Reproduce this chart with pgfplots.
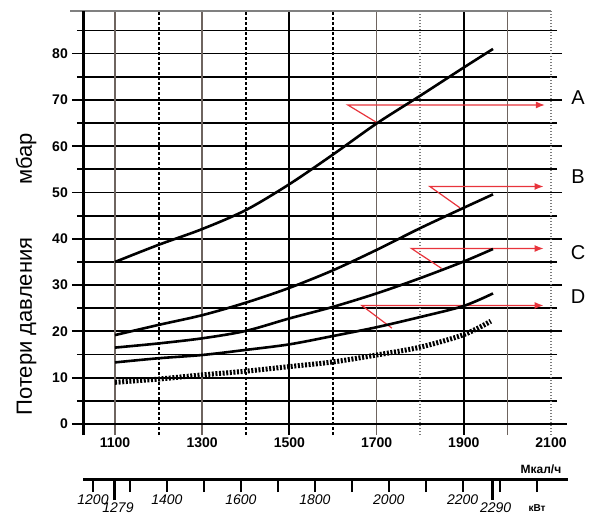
\documentclass[border=0pt]{standalone}
\usepackage{fontspec}
\setmainfont{Liberation Sans}
\usepackage{pgfplots}
\pgfplotsset{compat=1.18}
\usetikzlibrary{arrows.meta}
\definecolor{gridgray}{RGB}{110,100,95}
\definecolor{dotgray}{RGB}{125,125,125}
\definecolor{annred}{RGB}{232,52,60}
\begin{document}
\begin{tikzpicture}
\path (0,0) rectangle (598bp,-526bp);
\begin{axis}[
  at={(83bp,-430bp)}, anchor=south west,
  scale only axis, width=468bp, height=424bp,
  xmin=1026.6, xmax=2100, ymin=-2.38, ymax=89.2,
  clip=false,
  axis line style={draw=none},
  xtick={1100,1300,...,2100},
  xtick style={draw=none},
  ytick={0,10,...,80},
  minor ytick={5,15,...,85},
  ymajorgrids, yminorgrids,
  major grid style={black, line width=1.8bp},
  minor grid style={black, line width=1.8bp},
  ytick style={black, line width=1.8bp},
  tick align=outside,
  major tick length=11bp, minor tick length=6bp,
  /pgf/number format/assume math mode=true,
  /pgf/number format/1000 sep={},
  xticklabel style={font=\fontsize{14bp}{16bp}\selectfont\bfseries, inner sep=0pt, anchor=north, yshift=8bp},
  yticklabel style={font=\fontsize{14bp}{16bp}\selectfont\bfseries, inner sep=0pt, anchor=east, xshift=-4bp},
]
% vertical grid lines
\foreach \xv in {1100,1300,1700,2000}{
  \edef\tmp{\noexpand\draw[gridgray, line width=1.7bp] (axis cs:\xv,-2.38) -- (axis cs:\xv,89.2);}\tmp
}
\foreach \xv in {1500,1900}{
  \edef\tmp{\noexpand\draw[black, line width=2bp] (axis cs:\xv,-2.38) -- (axis cs:\xv,89.2);}\tmp
}
\foreach \xv in {1200,1400,1600}{
  \edef\tmp{\noexpand\draw[black, line width=2bp, dash pattern=on 3.5bp off 1.5bp] (axis cs:\xv,-2.38) -- (axis cs:\xv,89.2);}\tmp
}
\foreach \xv in {1800,2100}{
  \edef\tmp{\noexpand\draw[dotgray, line width=1.6bp, dash pattern=on 1.5bp off 1.5bp] (axis cs:\xv,-2.38) -- (axis cs:\xv,89.2);}\tmp
}
% axis lines
\draw[gray, line width=1.2bp] (axis cs:996.8,89.2) -- (axis cs:2100,89.2);
\draw[black, line width=2.6bp] (axis cs:1026.6,0) -- (axis cs:2137,0);
\draw[black, line width=3bp] (axis cs:1026.6,-2.38) -- (axis cs:1026.6,89.2);

% red annotations
\addplot[annred, line width=1.2bp, -{Latex[length=9bp,width=7bp]}] coordinates {(1704,64.9) (1634,68.9) (2086,68.9)};
\addplot[annred, line width=1.2bp, -{Latex[length=9bp,width=7bp]}] coordinates {(1891,46.7) (1822,51.3) (2083,51.3)};
\addplot[annred, line width=1.2bp, -{Latex[length=9bp,width=7bp]}] coordinates {(1849,33.6) (1780,37.9) (2083,37.9)};
\addplot[annred, line width=1.2bp, -{Latex[length=9bp,width=7bp]}] coordinates {(1735,20.7) (1666,25.6) (2083,25.6)};

% curves
\addplot[black, line width=2.6bp, smooth] coordinates {
 (1100,35.0) (1200,38.7) (1300,42.1) (1400,46.2) (1500,51.8) (1600,58.2) (1700,64.9) (1800,70.9) (1900,77.0) (1967,81.0)};
\addplot[black, line width=2.6bp, smooth] coordinates {
 (1100,19.2) (1200,21.4) (1300,23.5) (1400,26.2) (1500,29.4) (1600,33.2) (1700,37.6) (1800,42.3) (1900,46.7) (1967,49.6)};
\addplot[black, line width=2.6bp, smooth] coordinates {
 (1100,16.5) (1200,17.4) (1300,18.5) (1400,20.1) (1500,22.8) (1600,25.3) (1700,28.2) (1800,31.5) (1900,35.1) (1967,37.8)};
\addplot[black, line width=2.6bp, smooth] coordinates {
 (1100,13.3) (1200,14.2) (1300,14.9) (1400,16.0) (1500,17.2) (1600,19.0) (1700,20.9) (1800,23.1) (1900,25.5) (1967,28.2)};
\addplot[black, line width=5bp, dash pattern=on 2bp off 1.6bp, smooth] coordinates {
 (1100,9.0) (1200,9.7) (1300,10.6) (1400,11.4) (1500,12.4) (1600,13.4) (1700,14.9) (1800,16.6) (1900,19.3) (1962,22.2)};
\end{axis}

\begin{axis}[
  at={(83bp,-474bp)}, anchor=south west,
  scale only axis, width=485bp, height=1bp,
  xmin=1172.95, xmax=2484.8, ymin=0, ymax=1,
  axis x line*=bottom, axis y line=none,
  x axis line style={line width=3bp},
  xtick={1200,1400,...,2200},
  minor xtick={1300,1500,...,2100,2300,2400},
  tick align=outside,
  major tick length=13bp, minor tick length=13bp,
  tick style={black, line width=1.7bp},
  /pgf/number format/assume math mode=true,
  /pgf/number format/1000 sep={},
  xticklabel style={font=\fontsize{14bp}{16bp}\selectfont\itshape, inner sep=0pt, anchor=north, yshift=-3bp},
  extra x ticks={1259.5,2281},
  extra x tick labels={1279,2290},
  extra x tick style={major tick length=21bp, tick style={line width=3bp}, xticklabel style={xshift=3bp}},
]
\end{axis}

\node[font=\fontsize{12bp}{14bp}\selectfont\bfseries, inner sep=0pt] at (541bp,-464bp) {Мкал/ч};
\node[font=\fontsize{10bp}{12bp}\selectfont\bfseries, inner sep=0pt] at (537bp,-503bp) {кВт};

\node[font=\fontsize{20bp}{24bp}\selectfont] at (578bp,-93bp) {A};
\node[font=\fontsize{20bp}{24bp}\selectfont] at (578bp,-172bp) {B};
\node[font=\fontsize{20bp}{24bp}\selectfont] at (578bp,-248bp) {C};
\node[font=\fontsize{20bp}{24bp}\selectfont] at (578bp,-292bp) {D};

\node[font=\fontsize{22bp}{26bp}\selectfont, rotate=90, anchor=base] at (32bp,-321.5bp) {Потери давления};
\node[font=\fontsize{22bp}{26bp}\selectfont, rotate=90, anchor=base] at (32bp,-154bp) {мбар};
\end{tikzpicture}
\end{document}
